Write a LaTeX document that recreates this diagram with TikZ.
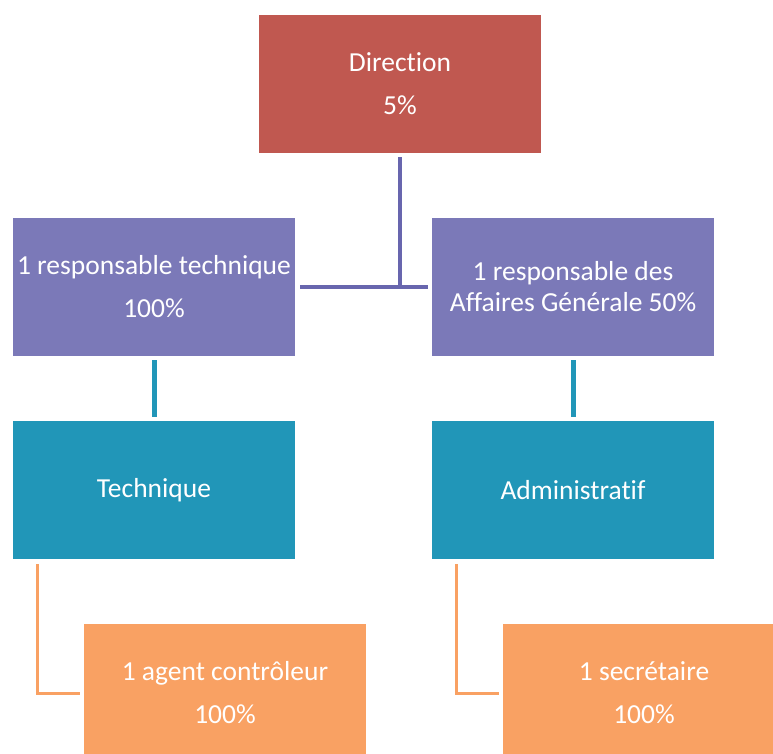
\documentclass[tikz,border=0pt]{standalone}
\usepackage{fontspec}
\setmainfont{Carlito}[Ligatures=NoCommon]
\usetikzlibrary{positioning}
\definecolor{dirred}{RGB}{192,88,80}
\definecolor{lavender}{RGB}{123,121,184}
\definecolor{lavline}{RGB}{104,102,174}
\definecolor{teal}{RGB}{33,150,184}
\definecolor{peach}{RGB}{249,161,99}
\tikzset{
  box/.style={minimum width=282pt,minimum height=138pt,inner sep=0pt,align=center,text=white,font=\fontsize{27.5}{31}\selectfont},
  head/.style={box,fill=dirred},
  chief/.style={box,fill=lavender},
  dept/.style={box,fill=teal},
  staff/.style={box,fill=peach},
  lavlink/.style={draw=lavline,line width=4pt},
  teallink/.style={draw=teal,line width=5pt,shorten <=4pt,shorten >=4pt},
  peachlink/.style={draw=peach,line width=3pt,shorten <=5pt,shorten >=4pt}
}

\begin{document}
\begin{tikzpicture}[x=1pt,y=-1pt]
  \useasboundingbox (0,0) rectangle (773,754);
  \clip (0,0) rectangle (773,754);

  % top level
  \node[head] (dir) at (400,84) {Direction\\[12pt]5\%};

  % managers
  \node[chief] (resptech) at (154,287) {1 responsable technique\\[12pt]100\%};
  \node[chief] (respag) at (573,287) {1 responsable des\\Affaires Générale 50\%};

  % departments
  \node[dept] (tech) at (154,490) {Technique};
  \node[dept] (admin) at (573,490) {Administratif};

  % staff
  \node[staff] (agent) at (225,693) {1 agent contrôleur\\[12pt]100\%};
  \node[staff] (secr) at (644,693) {1 secrétaire\\[12pt]100\%};

  % links
  \draw[lavlink,shorten <=4pt] (dir.south) -- (dir.south |- resptech.east);
  \draw[lavlink,shorten <=5pt,shorten >=4pt] (resptech.east) -- (respag.west);
  \draw[teallink] (resptech.south) -- (tech.north);
  \draw[teallink] (respag.south) -- (admin.north);
  \draw[peachlink] ([xshift=25pt]tech.south west) |- (agent.west);
  \draw[peachlink] ([xshift=25pt]admin.south west) |- (secr.west);
\end{tikzpicture}
\end{document}
